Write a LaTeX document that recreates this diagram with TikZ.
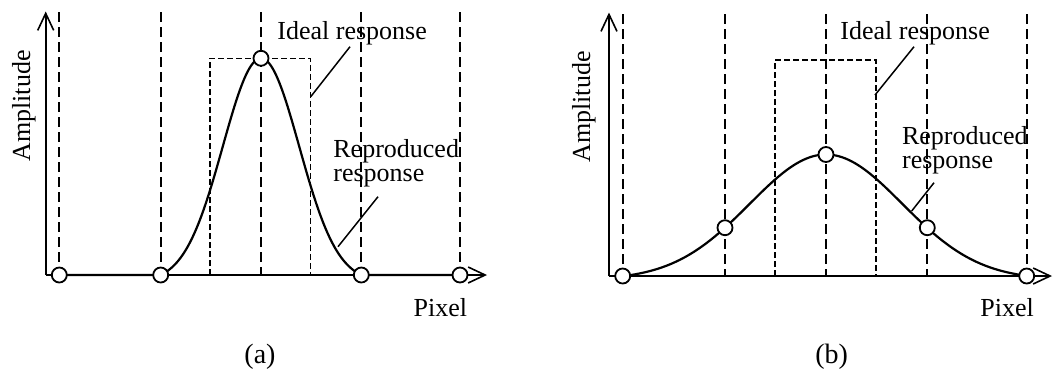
\documentclass[tikz,border=0pt]{standalone}
\usepackage{fontspec}
\setmainfont{Liberation Serif}
\usetikzlibrary{arrows.meta}
\begin{document}
\begin{tikzpicture}[x=0.5pt,y=-0.5pt,
  lbl/.style={inner sep=0pt, font=\fontsize{13}{15}\selectfont},
  captxt/.style={inner sep=0pt, font=\fontsize{14}{16}\selectfont},
  axis/.style={line width=0.8pt, -{Straight Barb[length=8.5pt,width=8pt,line width=0.8pt]}},
  gridline/.style={line width=0.9pt, dash pattern=on 5pt off 2.5pt},
  ideal/.style={line width=0.75pt, dash pattern=on 3pt off 1.5pt},
  curve/.style={line width=1.1pt},
  leader/.style={line width=0.75pt},
  dot/.style={circle, draw, fill=white, line width=0.9pt, minimum size=7.5pt, inner sep=0pt}]
\useasboundingbox (0,0) rectangle (1055,372);

% ---------------- panel (a) ----------------
\coordinate (oa) at (45.7,275);
\coordinate (ya) at (45.7,11.5);
\coordinate (xa) at (487,275);
\draw[axis] (oa) -- (ya);
\draw[axis] (oa) -- (xa);

\coordinate (pa0) at (59.3,275);
\coordinate (pa1) at (160.7,275);
\coordinate (pa2) at (261,58.3);
\coordinate (pa3) at (361.3,275);
\coordinate (pa4) at (460,275);
\coordinate (ga0) at (59.3,12);
\coordinate (ga1) at (160.7,12);
\coordinate (ga2) at (261,12);
\coordinate (ga3) at (361.3,12);
\coordinate (ga4) at (460,12);
\coordinate (ba2) at (261,275);
\draw[gridline] (ga0) -- (pa0);
\draw[gridline] (ga1) -- (pa1);
\draw[gridline] (ga2) -- (ba2);
\draw[gridline] (ga3) -- (pa3);
\draw[gridline] (ga4) -- (pa4);

\coordinate (ra1) at (210,275);
\coordinate (ra2) at (210,58.3);
\coordinate (ra3) at (310.7,58.3);
\coordinate (ra4) at (310.7,275);
\draw[ideal] (ra1) -- (ra2) -- (ra3) -- (ra4);

\draw[curve] (pa0) -- (pa1) -- plot[domain=-1:1, samples=121]
  ({261+100.3*\x},{275-216.7*(exp(-(\x)*(\x)/0.29)-0.0318)/0.9682}) -- (pa4);

\node[dot] (da0) at (pa0) {};
\node[dot] (da1) at (pa1) {};
\node[dot] (da2) at (pa2) {};
\node[dot] (da3) at (pa3) {};
\node[dot] (da4) at (pa4) {};

\node[lbl, anchor=base west] (ideala) at (277,39.3) {Ideal response};
\coordinate (lia1) at (350,46.7);
\coordinate (lia2) at (310.7,96.7);
\draw[leader] (lia1) -- (lia2);

\node[lbl, anchor=base west] (repa1) at (333,157.3) {Reproduced};
\node[lbl, anchor=base west] (repa2) at (333,181.7) {response};
\coordinate (lra1) at (378,196.7);
\coordinate (lra2) at (338,246.7);
\draw[leader] (lra1) -- (lra2);

\node[lbl, rotate=90, anchor=base west] (ampa) at (30,162) {Amplitude};
\node[lbl, anchor=base west] (pixa) at (413.3,316) {Pixel};
\node[captxt, anchor=base] (capa) at (260,363) {(a)};

% ---------------- panel (b) ----------------
\coordinate (ob) at (609,276);
\coordinate (yb) at (609,12.5);
\coordinate (xb) at (1052,276);
\draw[axis] (ob) -- (yb);
\draw[axis] (ob) -- (xb);

\coordinate (pb0) at (622.7,276);
\coordinate (pb1) at (725,227.7);
\coordinate (pb2) at (826,154.5);
\coordinate (pb3) at (927.3,227.7);
\coordinate (pb4) at (1026.7,276);
\coordinate (gb0) at (622.7,14);
\coordinate (gb1) at (725,14);
\coordinate (gb2) at (826,14);
\coordinate (gb3) at (927.3,14);
\coordinate (gb4) at (1026.7,14);
\coordinate (bb1) at (725,276);
\coordinate (bb2) at (826,276);
\coordinate (bb3) at (927.3,276);
\draw[gridline] (gb0) -- (pb0);
\draw[gridline] (gb1) -- (bb1);
\draw[gridline] (gb2) -- (bb2);
\draw[gridline] (gb3) -- (bb3);
\draw[gridline] (gb4) -- (pb4);

\coordinate (rb1) at (775,276);
\coordinate (rb2) at (775,60);
\coordinate (rb3) at (876,60);
\coordinate (rb4) at (876,276);
\draw[ideal] (rb1) -- (rb2) -- (rb3) -- (rb4);

\draw[curve] plot[domain=-2:2, samples=161]
  ({826+101*\x},{276-121.5*(exp(-(\x)*(\x)/1.14)-0.0299)/0.9701});

\node[dot] (db0) at (pb0) {};
\node[dot] (db1) at (pb1) {};
\node[dot] (db2) at (pb2) {};
\node[dot] (db3) at (pb3) {};
\node[dot] (db4) at (pb4) {};

\node[lbl, anchor=base west] (idealb) at (840,39.3) {Ideal response};
\coordinate (lib1) at (914,46.7);
\coordinate (lib2) at (875,95);
\draw[leader] (lib1) -- (lib2);

\node[lbl, anchor=base west] (repb1) at (901.7,144) {Reproduced};
\node[lbl, anchor=base west] (repb2) at (901.7,168.3) {response};
\coordinate (lrb1) at (934,182.7);
\coordinate (lrb2) at (911.7,211);
\draw[leader] (lrb1) -- (lrb2);

\node[lbl, rotate=90, anchor=base west] (ampb) at (590,163) {Amplitude};
\node[lbl, anchor=base west] (pixb) at (980,316) {Pixel};
\node[captxt, anchor=base] (capb) at (831.7,363) {(b)};
\end{tikzpicture}
\end{document}
